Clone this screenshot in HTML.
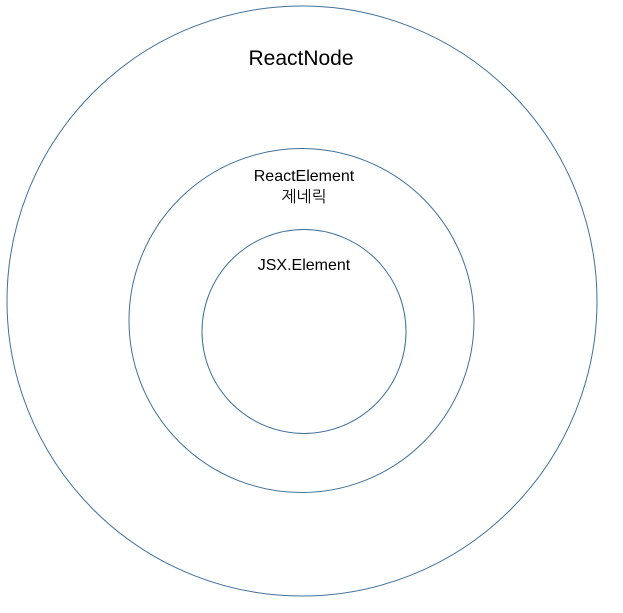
<!DOCTYPE html>
<html><head><meta charset="utf-8"><style>
html,body{margin:0;padding:0;background:#fff;width:623px;height:613px;overflow:hidden}
</style></head><body>
<svg width="623" height="613" viewBox="0 0 623 613" xmlns="http://www.w3.org/2000/svg">
<g fill="none" stroke="#41719c" stroke-width="1">
<ellipse cx="302" cy="301" rx="295" ry="295"/>
<ellipse cx="301.5" cy="320.5" rx="172.5" ry="172"/>
<ellipse cx="304" cy="331.5" rx="102" ry="102"/>
</g>
<g font-family="'Liberation Sans','NanumGothic','Noto Sans CJK KR',sans-serif" fill="#000" text-anchor="middle">
<text x="301" y="65" font-size="21">ReactNode</text>
<text x="304" y="181" font-size="16">ReactElement</text>
<text x="304" y="202" font-size="16">제네릭</text>
<text x="304" y="270" font-size="16">JSX.Element</text>
</g>
</svg>
</body></html>
